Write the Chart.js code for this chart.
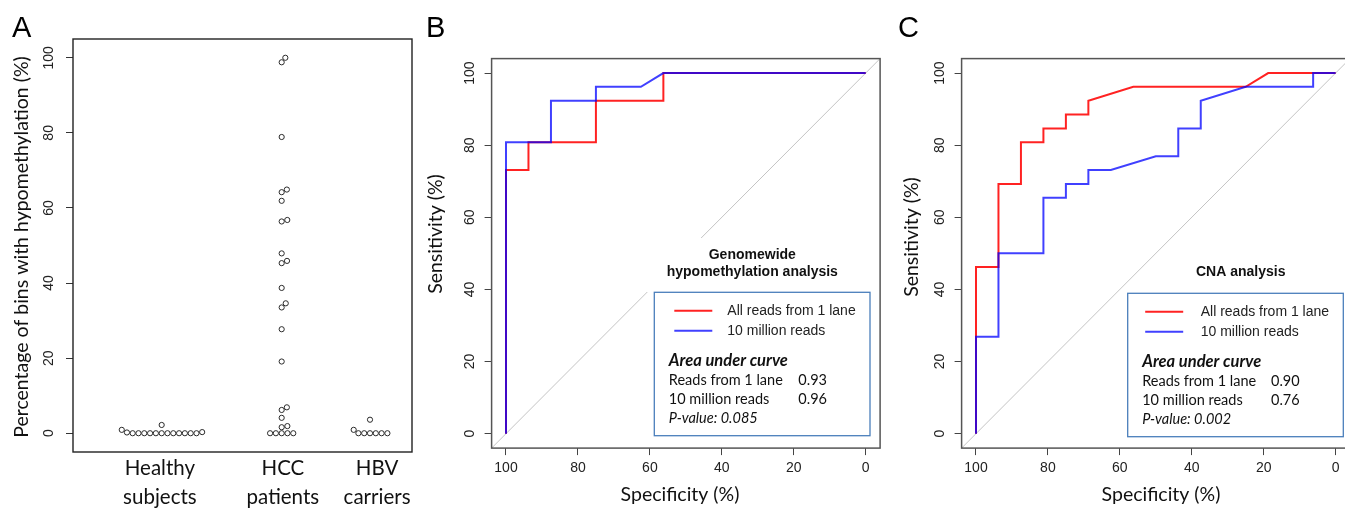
<!DOCTYPE html>
<html>
<head>
<meta charset="utf-8">
<script src="https://cdn.jsdelivr.net/npm/chart.js@4.4.1/dist/chart.umd.min.js"></script>
<style>
  html, body { margin: 0; padding: 0; background: #fff; }
  #wrap { position: relative; width: 1345px; height: 508px; overflow: hidden; background: #fff; }
  canvas { position: absolute; left: 0; top: 0; }
</style>
</head>
<body>
<div id="wrap">
  <canvas id="chartA" width="1345" height="508"></canvas>
  <canvas id="chartB" width="1345" height="508"></canvas>
  <canvas id="chartC" width="1345" height="508"></canvas>
</div>
<script>
// ---------- data ----------
const GROUP_LABELS = [['Healthy', 'subjects'], ['HCC', 'patients'], ['HBV', 'carriers']];
const HEALTHY = [0.9, 0.3, 0.2, 0, 0, 0, 0, 0, 0, 0, 0, 0, 0, 0, 0, 2.2];
const HCC = [100, 98.8, 78.9, 64.9, 64.2, 61.9, 56.8, 56.4, 47.9, 45.9, 45.3, 38.7, 34.6, 33.5,
             27.7, 19.1, 6.9, 6.2, 4.1, 1.9, 1.6, 0, 0, 0, 0, 0];
const HBV = [0.9, 3.6, 0, 0, 0, 0, 0, 0];
const AXIS_TICKS = [0, 20, 40, 60, 80, 100];

const SERIES_NAMES = ['All reads from 1 lane', '10 million reads'];
const AUC_NAMES = ['Reads from 1 lane', '10 million reads'];

// panel B - genomewide hypomethylation
const SPEC_B_LANE = [100, 100, 93.75, 93.75, 75, 75, 56.25, 56.25, 0];
const SENS_B_LANE = [0, 73.1, 73.1, 80.8, 80.8, 92.3, 92.3, 100, 100];
const SPEC_B_10M = [100, 100, 87.5, 87.5, 75, 75, 62.5, 56.25, 0];
const SENS_B_10M = [0, 80.8, 80.8, 92.3, 92.3, 96.2, 96.2, 100, 100];
const AUC_B = ['0.93', '0.96'];
const P_B = '0.085';

// panel C - CNA
const SPEC_C_LANE = [100, 100, 93.75, 93.75, 87.5, 87.5, 81.25, 81.25, 75, 75, 68.75, 68.75, 56.25, 25, 18.75, 0];
const SENS_C_LANE = [0, 46.2, 46.2, 69.2, 69.2, 80.8, 80.8, 84.6, 84.6, 88.5, 88.5, 92.3, 96.2, 96.2, 100, 100];
const SPEC_C_10M = [100, 100, 93.75, 93.75, 81.25, 81.25, 75, 75, 68.75, 68.75, 62.5, 50, 43.75, 43.75,
                    37.5, 37.5, 25, 6.25, 6.25, 0];
const SENS_C_10M = [0, 26.9, 26.9, 50, 50, 65.4, 65.4, 69.2, 69.2, 73.1, 73.1, 76.9, 76.9, 84.6,
                    84.6, 92.3, 96.2, 96.2, 100, 100];
const AUC_C = ['0.90', '0.76'];
const P_C = '0.002';

// ---------- styling / layout ----------
const ARIAL = '"Liberation Sans", Arial, sans-serif';
const CALI = 'Lato, "Open Sans", sans-serif';
const RED = 'rgba(255,10,10,0.9)';
const BLUE = 'rgba(0,0,255,0.75)';
const W = 1345, H = 508;

// group centres on the x axis of panel A, and where their labels sit
const GROUP_X = [1, 2, 2.736];
const LABEL_X = [0.985, 2.01, 2.795];

Chart.defaults.animation = false;
Chart.defaults.responsive = false;

function pts(xs, ys) {
    return xs.map((x, i) => ({ x: x, y: ys[i] }));
}

// simple beeswarm: each value, smallest first, goes to the free x offset nearest the centre
function swarm(values, yPx, diam) {
    const order = values.map((v, i) => i).sort((a, b) => values[a] - values[b]);
    const placed = [];
    const offs = [];
    order.forEach(i => {
        const y = values[i] * yPx;
        const near = placed.filter(p => Math.abs(p.y - y) < diam);
        const cands = [0];
        near.forEach(p => {
            const h = Math.sqrt(diam * diam - (p.y - y) ** 2);
            cands.push(p.x + h, p.x - h);
        });
        const ok = cands.filter(c => near.every(p => (p.x - c) ** 2 + (p.y - y) ** 2 >= diam * diam - 1e-6));
        ok.sort((a, b) => Math.abs(a) - Math.abs(b) || b - a);
        placed.push({ x: ok[0], y: y });
        offs[i] = ok[0];
    });
    return offs;
}

function fixedAxis(size) {
    return function (scale) {
        if (scale.isHorizontal()) scale.height = size; else scale.width = size;
    };
}

function setTicks(values) {
    return function (scale) { scale.ticks = values.map(v => ({ value: v })); };
}

// frame, rotated y labels, titles, panel letter and legend box drawn like the R figure
function rPanel(cfg) {
    return {
        id: 'rPanel',
        afterDraw(chart) {
            const { ctx, chartArea: a } = chart;
            const xs = chart.scales.x, ys = chart.scales.y;
            ctx.save();

            const fx0 = xs.getPixelForValue(cfg.frameX[0]), fx1 = xs.getPixelForValue(cfg.frameX[1]);
            const fy0 = ys.getPixelForValue(cfg.frameY[0]), fy1 = ys.getPixelForValue(cfg.frameY[1]);
            ctx.strokeStyle = cfg.frameColor;
            ctx.lineWidth = cfg.frameWidth;
            ctx.strokeRect(Math.min(fx0, fx1), Math.min(fy0, fy1), Math.abs(fx1 - fx0), Math.abs(fy1 - fy0));

            // y tick labels, turned like R's las=0
            ctx.fillStyle = '#222';
            ctx.font = '14px ' + ARIAL;
            ctx.textAlign = 'center';
            ctx.textBaseline = 'middle';
            AXIS_TICKS.forEach(v => {
                ctx.save();
                ctx.translate(a.left - cfg.yLabelGap, ys.getPixelForValue(v));
                ctx.rotate(-Math.PI / 2);
                ctx.fillText(String(v), 0, 0);
                ctx.restore();
            });

            ctx.fillStyle = '#111';
            ctx.font = cfg.titleFont;
            ctx.save();
            ctx.translate(cfg.yTitle[0], cfg.yTitle[1]);
            ctx.rotate(-Math.PI / 2);
            ctx.fillText(cfg.yTitle[2], 0, 0);
            ctx.restore();
            if (cfg.xTitle) ctx.fillText(cfg.xTitle[2], cfg.xTitle[0], cfg.xTitle[1]);

            ctx.fillStyle = '#000';
            ctx.font = '29px ' + ARIAL;
            ctx.textAlign = 'left';
            ctx.textBaseline = 'alphabetic';
            ctx.fillText(cfg.letter[2], cfg.letter[0], cfg.letter[1]);

            if (cfg.legend) drawLegend(ctx, cfg.legend);
            ctx.restore();
        }
    };
}

function drawLegend(ctx, L) {
    if (L.mask) {
        ctx.fillStyle = '#fff';
        ctx.fillRect(L.mask[0], L.mask[1], L.mask[2], L.mask[3]);
    }
    ctx.fillStyle = '#111';
    ctx.font = 'bold 14px ' + ARIAL;
    ctx.textAlign = 'center';
    ctx.textBaseline = 'middle';
    L.title.forEach((t, i) => ctx.fillText(t, L.titleX, L.titleY[i]));

    ctx.fillStyle = '#fff';
    ctx.fillRect(L.x, L.y, L.w, L.h);
    ctx.strokeStyle = '#4a7ebb';
    ctx.lineWidth = 1.3;
    ctx.strokeRect(L.x, L.y, L.w, L.h);

    [RED, BLUE].forEach((c, i) => {
        const y = L.y + 18.4 + i * 20;
        ctx.strokeStyle = c;
        ctx.lineWidth = 2;
        ctx.beginPath();
        ctx.moveTo(L.x + L.lineX, y);
        ctx.lineTo(L.x + L.lineX + 38, y);
        ctx.stroke();
        ctx.fillStyle = '#222';
        ctx.font = '14px ' + ARIAL;
        ctx.textAlign = 'left';
        ctx.fillText(SERIES_NAMES[i], L.x + 73, y);
    });

    ctx.fillStyle = '#111';
    ctx.font = 'italic bold 16.5px ' + CALI;
    ctx.fillText('Area under curve', L.x + 14.5, L.y + 68.4);
    ctx.font = '14.5px ' + CALI;
    AUC_NAMES.forEach((n, i) => {
        const y = L.y + 88.4 + i * 18.8;
        ctx.fillText(n, L.x + 14.5, y);
        ctx.fillText(L.auc[i], L.x + L.valueX, y);
    });
    ctx.font = 'italic 14.5px ' + CALI;
    ctx.fillText('P-value: ' + L.p, L.x + 14.5, L.y + 126.4);
}

// ---------- panel A: beeswarm ----------
(function () {
    const area = { left: 73, right: 412, top: 39, bottom: 452 };
    const xMin = 0.261, xMax = 3.086, yMin = -5, yMax = 105;
    const xPx = (area.right - area.left) / (xMax - xMin);
    const yPx = (area.bottom - area.top) / (yMax - yMin);
    const diam = 5.8;

    const groups = [HEALTHY, HCC, HBV];
    const datasets = groups.map((vals, g) => {
        const offs = swarm(vals, yPx, diam);
        return {
            data: vals.map((v, i) => ({ x: GROUP_X[g] + offs[i] / xPx, y: v })),
            pointRadius: 2.6,
            pointBorderWidth: 1,
            pointBorderColor: '#2a2a2a',
            pointBackgroundColor: 'rgba(0,0,0,0)'
        };
    });

    new Chart(document.getElementById('chartA'), {
        type: 'scatter',
        data: { datasets: datasets },
        options: {
            layout: { padding: { left: area.left - 50, right: W - area.right, top: area.top, bottom: 0 } },
            plugins: { legend: { display: false }, tooltip: { enabled: false } },
            scales: {
                x: {
                    type: 'linear', min: xMin, max: xMax,
                    afterFit: fixedAxis(H - area.bottom),
                    afterBuildTicks: setTicks(LABEL_X),
                    grid: { display: false, drawTicks: false },
                    border: { display: false },
                    ticks: {
                        autoSkip: false, maxRotation: 0, minRotation: 0, padding: 2,
                        color: '#111',
                        font: { family: CALI, size: 20.5, lineHeight: 1.4 },
                        callback: (v, i) => GROUP_LABELS[i]
                    }
                },
                y: {
                    min: yMin, max: yMax,
                    afterFit: fixedAxis(50),
                    afterBuildTicks: setTicks(AXIS_TICKS),
                    grid: { drawOnChartArea: false, drawTicks: true, tickLength: 7, color: '#333' },
                    border: { display: false },
                    ticks: { display: false }
                }
            }
        },
        plugins: [rPanel({
            frameX: [xMin, xMax], frameY: [yMin, yMax], frameColor: '#222', frameWidth: 1.4,
            yLabelGap: 24,
            titleFont: '19.5px ' + CALI,
            yTitle: [22, 247, 'Percentage of bins with hypomethylation (%)'],
            letter: [12, 37, 'A']
        })]
    });
})();

// ---------- panels B and C: ROC curves ----------
function rocChart(id, area, xMin, lane, tenM, cfg) {
    const xMax = 104, yMin = -4, yMax = 104;
    new Chart(document.getElementById(id), {
        type: 'scatter',
        data: {
            datasets: [
                { data: tenM, borderColor: BLUE },
                { data: lane, borderColor: RED },
                // chance line sens = 100 - spec, across the whole frame
                { data: [{ x: xMax, y: 100 - xMax }, { x: -4, y: 100 + 4 }], borderColor: '#c4c4c4', borderWidth: 1 }
            ].map(d => Object.assign({ showLine: true, pointRadius: 0, borderWidth: 2, tension: 0 }, d))
        },
        options: {
            layout: { padding: { left: area.left - 45, right: W - area.right, top: area.top, bottom: 0 } },
            plugins: { legend: { display: false }, tooltip: { enabled: false } },
            scales: {
                x: {
                    type: 'linear', reverse: true, min: xMin, max: xMax,
                    afterFit: fixedAxis(H - area.bottom),
                    afterBuildTicks: setTicks(AXIS_TICKS),
                    grid: { drawOnChartArea: false, drawTicks: true, tickLength: 7, color: '#444' },
                    border: { display: false },
                    ticks: { maxRotation: 0, autoSkip: false, padding: 5, color: '#222', font: { family: ARIAL, size: 14 } }
                },
                y: {
                    min: yMin, max: yMax,
                    afterFit: fixedAxis(45),
                    afterBuildTicks: setTicks(AXIS_TICKS),
                    grid: { drawOnChartArea: false, drawTicks: true, tickLength: 7, color: '#444' },
                    border: { display: false },
                    ticks: { display: false }
                }
            }
        },
        plugins: [rPanel(Object.assign({
            frameX: [xMax, -4], frameY: [yMin, yMax], frameColor: '#555', frameWidth: 1.5,
            yLabelGap: 21,
            titleFont: '19.5px ' + CALI
        }, cfg))]
    });
}

rocChart('chartB', { left: 491.6, right: 880.1, top: 58.6, bottom: 448.1 }, -4,
    pts(SPEC_B_LANE, SENS_B_LANE), pts(SPEC_B_10M, SENS_B_10M), {
        yTitle: [436, 234, 'Sensitivity (%)'],
        xTitle: [680, 495, 'Specificity (%)'],
        letter: [426, 37, 'B'],
        legend: {
            x: 654.3, y: 292.3, w: 215.7, h: 143.4, lineX: 20, valueX: 144,
            title: ['Genomewide', 'hypomethylation analysis'], titleX: 752.3, titleY: [255.3, 271.7],
            mask: [645, 238, 220, 54],
            auc: AUC_B, p: P_B
        }
    });

rocChart('chartC', { left: 961.6, right: 1345, top: 58.6, bottom: 448.1 }, -2.61,
    pts(SPEC_C_LANE, SENS_C_LANE), pts(SPEC_C_10M, SENS_C_10M), {
        yTitle: [912, 237, 'Sensitivity (%)'],
        xTitle: [1161, 495, 'Specificity (%)'],
        letter: [898, 37, 'C'],
        legend: {
            x: 1127.7, y: 293.3, w: 215.6, h: 143.4, lineX: 17.5, valueX: 143.3,
            title: ['CNA analysis'], titleX: 1240.7, titleY: [271.7],
            mask: null,
            auc: AUC_C, p: P_C
        }
    });
</script>
</body>
</html>
